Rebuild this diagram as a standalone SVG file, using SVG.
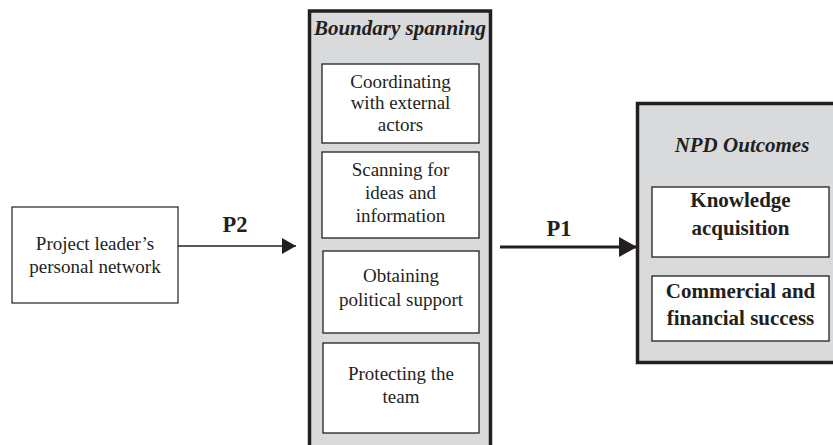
<svg xmlns="http://www.w3.org/2000/svg" width="833" height="445" viewBox="0 0 833 445">
<style>
.outer{fill:#d9dadb;stroke:#231f20;stroke-width:3.5}
.inner{fill:#fff;stroke:#231f20;stroke-width:1.3}
.plain{fill:#fff;stroke:#231f20;stroke-width:1.2}
.t{font-family:"Liberation Serif","Times New Roman",serif;font-size:19px;fill:#231f20;text-anchor:middle}
.b{font-family:"Liberation Serif","Times New Roman",serif;font-size:21px;font-weight:bold;fill:#231f20;text-anchor:middle}
.bi{font-family:"Liberation Serif","Times New Roman",serif;font-size:21px;font-weight:bold;font-style:italic;fill:#231f20;text-anchor:middle}
.lbl{font-family:"Liberation Serif","Times New Roman",serif;font-size:22.5px;font-weight:bold;fill:#231f20;text-anchor:middle}
</style>
<defs>
<marker id="ah" markerWidth="14" markerHeight="16" refX="14" refY="8" orient="auto" markerUnits="userSpaceOnUse">
<path d="M0,0 L14,8 L0,16 Z" fill="#231f20"/>
</marker>
<marker id="ah2" markerWidth="18" markerHeight="20" refX="18" refY="10" orient="auto" markerUnits="userSpaceOnUse">
<path d="M0,0 L18,10 L0,20 Z" fill="#231f20"/>
</marker>
</defs>
<rect width="833" height="445" fill="#fff"/>

<g id="network">
<rect class="plain" x="12" y="207" width="166" height="96"/>
<text class="t" x="95" y="250">Project leader’s</text>
<text class="t" x="95" y="273">personal network</text>
</g>

<g id="boundary">
<rect class="outer" x="309.5" y="11" width="181" height="450"/>
<text class="bi" x="400" y="35">Boundary spanning</text>
</g>
<g id="coordinating">
<rect class="inner" x="322" y="64" width="157" height="79"/>
<text class="t" x="400.5" y="88">Coordinating</text>
<text class="t" x="400.5" y="109">with external</text>
<text class="t" x="400.5" y="131">actors</text>
</g>
<g id="scanning">
<rect class="inner" x="322" y="152" width="157" height="86"/>
<text class="t" x="400.5" y="176">Scanning for</text>
<text class="t" x="400.5" y="199">ideas and</text>
<text class="t" x="400.5" y="222">information</text>
</g>
<g id="political">
<rect class="inner" x="323" y="251" width="156" height="82"/>
<text class="t" x="401" y="282">Obtaining</text>
<text class="t" x="401" y="306">political support</text>
</g>
<g id="protecting">
<rect class="inner" x="323" y="343" width="156" height="90"/>
<text class="t" x="401" y="380">Protecting the</text>
<text class="t" x="401" y="403">team</text>
</g>

<g id="npd">
<rect class="outer" x="637.5" y="103.5" width="210" height="259"/>
<text class="bi" x="742" y="152">NPD Outcomes</text>
</g>
<g id="knowledge">
<rect class="inner" x="652" y="187" width="177" height="70"/>
<text class="b" x="740.5" y="207">Knowledge</text>
<text class="b" x="740.5" y="235">acquisition</text>
</g>
<g id="commercial">
<rect class="inner" x="652" y="276" width="177" height="65"/>
<text class="b" x="740.5" y="298">Commercial and</text>
<text class="b" x="740.5" y="325">financial success</text>
</g>

<g id="connectors">
<line x1="178" y1="246" x2="296" y2="246" stroke="#231f20" stroke-width="1.5" marker-end="url(#ah)"/>
<text class="lbl" x="235" y="232">P2</text>
<line x1="500" y1="247" x2="637" y2="247" stroke="#231f20" stroke-width="3" marker-end="url(#ah2)"/>
<text class="lbl" x="559" y="236">P1</text>
</g>
</svg>
